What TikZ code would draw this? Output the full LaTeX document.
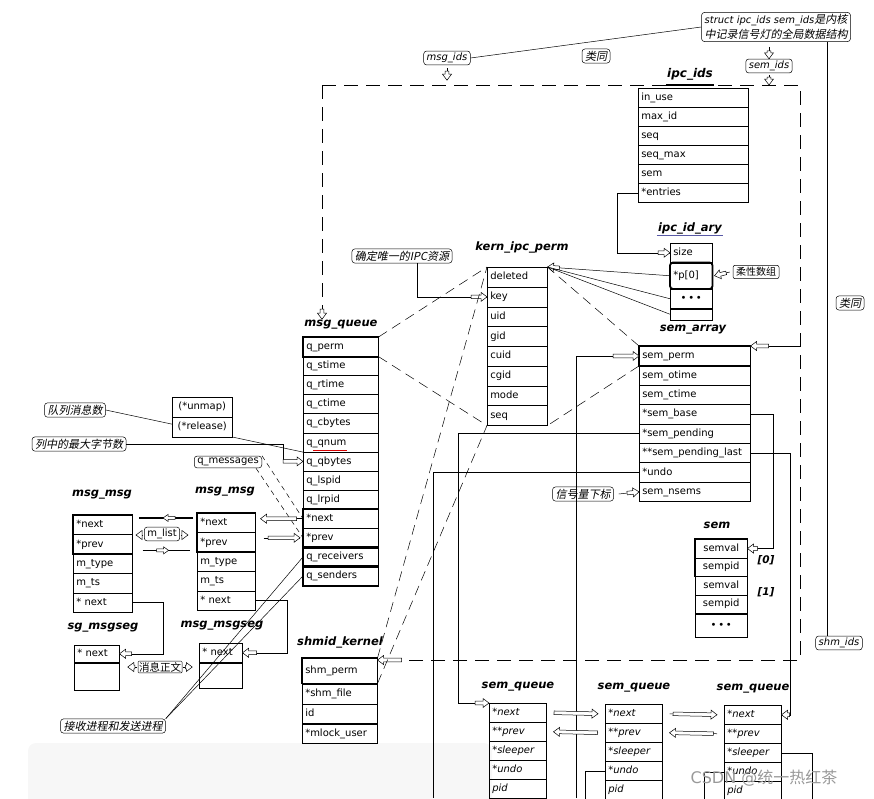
\documentclass[tikz,border=0pt]{standalone}
\usepackage{fontspec}
\setmainfont{DejaVu Sans}
\newfontfamily\cjk{Noto Sans CJK SC}
\newfontfamily\cjki[FakeSlant=0.2]{Noto Sans CJK SC}
\usetikzlibrary{arrows.meta,positioning,calc,decorations.markings}

\begin{document}
\begin{tikzpicture}[
  x=1pt, y=-1pt, line width=.5pt,
  row/.style={draw, anchor=north west, inner xsep=3pt, inner ysep=0pt, text height=7.5pt, text depth=2pt, font=\fontsize{10}{12}\selectfont},
  ttl/.style={font=\fontsize{11.5}{13}\selectfont\bfseries\itshape, inner sep=1pt},
  note/.style={draw, fill=white, rounded corners=3pt, inner xsep=3pt, inner ysep=2pt, font=\fontsize{10}{12}\selectfont\itshape},
  cnote/.style={note, font=\fontsize{11}{13}\selectfont\cjki},
  plain/.style={draw, fill=white, rounded corners=3pt, inner xsep=3pt, inner ysep=2pt, font=\fontsize{10}{12}\selectfont},
  thk/.style={line width=1.8pt},
  frame/.style={dash pattern=on 14pt off 8pt},
  perm/.style={dash pattern=on 10pt off 6pt},
  lst/.style={dash pattern=on 5pt off 4pt},
  hol/.style={postaction={decorate, decoration={markings, mark=at position 1 with {\draw[solid, fill=white, line width=.5pt] (0,0) -- (-6,-4.5) -- (-6,-1.8) -- (-#1,-1.8) -- (-#1,1.8) -- (-6,1.8) -- (-6,4.5) -- cycle;}}}},
  hol/.default=14,
  holm/.style={postaction={decorate, decoration={markings, mark=at position .55 with {\draw[solid, fill=white, line width=.5pt] (0,0) -- (-5,-3.5) -- (-5,-1.5) -- (-12,-1.5) -- (-12,1.5) -- (-5,1.5) -- (-5,3.5) -- cycle;}}}}
]
\useasboundingbox (0,0) rectangle (874,798);
\clip (0,0) rectangle (874,798);
\fill[black!3, rounded corners=8pt] (28,743) rectangle (492,820);

% Top notes
\node[note, align=center, font=\fontsize{10}{15}\selectfont\itshape] (cb) at (776,27) {struct ipc\_ids sem\_ids{\fontsize{11}{15}\selectfont\cjki 是内核}\\{\fontsize{11}{15}\selectfont\cjki 中记录信号灯的全局数据结构}};
\node[note] (mids) at (447,58) {msg\_ids};
\node[cnote] (lei1) at (596,56) {类同};
\node[note] (sids) at (769,66) {sem\_ids};
\node[cnote] (lei2) at (850,303) {类同};
\node[note] (shm) at (839,643) {shm\_ids};

\coordinate (fnw) at (322,85);
\coordinate (fne) at (800,85);
\coordinate (fse) at (800,660);

% ipc_ids
\node[ttl, font=\fontsize{12}{14}\selectfont\bfseries\itshape] (ipct) at (690,74) {ipc\_ids};
\foreach \f [count=\i] in {in\_use, max\_id, seq, seq\_max, sem, *entries}
  \node[row, text width=104pt, minimum height=19pt] (ipc-\i) at (638,{88+19*(\i-1)}) {\f};

% ipc_id_ary
\node[ttl] (aryt) at (690,228) {ipc\_id\_ary};
\node[row, text width=36pt, minimum height=19pt] (ary-1) at (670,243) {size};
\node[row, text width=36pt, minimum height=26pt, below=0pt of ary-1] (ary-2) {*p[0]};
\node[row, text width=36pt, minimum height=19pt, align=center, below=0pt of ary-2] (ary-3) {\textbullet\,\textbullet\,\textbullet};
\node[row, text width=36pt, minimum height=11pt, below=0pt of ary-3] (ary-4) {};
\draw[thk, rounded corners=3pt] (ary-2.north west) rectangle (ary-2.south east);
\draw[blue!30!gray] (aryt.south west) -- (aryt.south east);
\node[plain, rounded corners=2pt, font=\fontsize{10}{12}\selectfont\cjk] (flex) at (756,272) {柔性数组};

% kern_ipc_perm
\node[ttl] (kernt) at (522,247) {kern\_ipc\_perm};
\foreach \f [count=\i] in {deleted, key, uid, gid, cuid, cgid, mode, seq}
  \node[row, text width=54pt, minimum height=19.75pt] (kern-\i) at (487,{267+19.75*(\i-1)}) {\f};
\node[cnote] (key) at (402,256) {确定唯一的IPC资源};

% msg_queue
\node[ttl] (mqt) at (341,325) {msg\_queue};
\foreach \f [count=\i] in {q\_perm, q\_stime, q\_rtime, q\_ctime, q\_cbytes, q\_qnum, q\_qbytes, q\_lspid, q\_lrpid, *next, *prev, q\_receivers, q\_senders}
  \node[row, text width=69pt, minimum height=19.1pt] (mq-\i) at (303,{337+19.1*(\i-1)}) {\f};
\draw[thk] (mq-1.north west) rectangle (mq-1.south east);
\draw[thk] (mq-10.north west) rectangle (mq-11.south east);
\draw[thk] (mq-12.north west) rectangle (mq-12.south east);
\draw[thk] (mq-13.north west) rectangle (mq-13.south east);

% sem_array
\node[ttl] (sat) at (693,330) {sem\_array};
\foreach \f [count=\i] in {sem\_perm, sem\_otime, sem\_ctime, *sem\_base, *sem\_pending, **sem\_pending\_last, *undo, sem\_nsems}
  \node[row, text width=105pt, minimum height=19.4pt] (sa-\i) at (639,{346+19.4*(\i-1)}) {\f};
\draw[thk] (sa-1.north west) rectangle (sa-1.south east);
\node[cnote] (idx) at (583,494) {信号量下标};

% sem
\node[ttl] (semt) at (717,525) {sem};
\foreach \f [count=\i] in {semval, sempid, semval, sempid}
  \node[row, text width=46pt, minimum height=18.5pt, align=center] (sem-\i) at (695,{539+18.5*(\i-1)}) {\f};
\node[row, text width=46pt, minimum height=23pt, align=center, below=0pt of sem-4] (sem-5) {\textbullet\,\textbullet\,\textbullet};
\draw[thk] (sem-1.north west) rectangle (sem-2.south east);
\node[font=\fontsize{10.5}{12}\selectfont\bfseries\itshape] (ix0) at (766,560) {[0]};
\node[font=\fontsize{10.5}{12}\selectfont\bfseries\itshape] (ix1) at (766,592) {[1]};

% msg_msg
\node[ttl] (mat) at (102,495) {msg\_msg};
\node[ttl] (mbt) at (225,492) {msg\_msg};
\foreach \f [count=\i] in {*next, *prev, m\_type, m\_ts, * next} {
  \node[row, text width=53pt, minimum height=19.4pt] (ma-\i) at (73,{515+19.4*(\i-1)}) {\f};
  \node[row, text width=52pt, minimum height=19.4pt] (mb-\i) at (197,{513+19.4*(\i-1)}) {\f};
}
\draw[thk] (ma-1.north west) rectangle (ma-2.south east);
\draw[thk] (mb-1.north west) rectangle (mb-2.south east);
\node[plain] (qm) at (228,462) {q\_messages};
\node[plain] (ml) at (162,534) {m\_list};
\node[cnote] (qn) at (75,410) {队列消息数};
\node[cnote] (qb) at (79,444) {列中的最大字节数};

% msgseg
\node[ttl] (sgt) at (103,628) {sg\_msgseg};
\node[row, text width=39pt, minimum height=17pt] (sg-1) at (74,645) {* next};
\node[row, text width=39pt, minimum height=27pt, below=0pt of sg-1] (sg-2) {};
\node[ttl] (mst) at (222,626) {msg\_msgseg};
\node[row, text width=37pt, minimum height=19pt] (ms-1) at (199,643) {* next};
\node[row, text width=37pt, minimum height=25pt, below=0pt of ms-1] (ms-2) {};
\node[plain, rounded corners=1pt, inner sep=1pt, font=\fontsize{10.5}{12}\selectfont\cjk] (body) at (160,667) {消息正文};
\node[cnote] (rs) at (113,726) {接收进程和发送进程};

% shmid_kernel
\node[ttl] (shkt) at (340,642) {shmid\_kernel};
\node[row, text width=69pt, minimum height=25pt] (shk-1) at (302,658) {shm\_perm};
\node[row, text width=69pt, minimum height=20pt, below=0pt of shk-1] (shk-2) {*shm\_file};
\node[row, text width=69pt, minimum height=19pt, below=0pt of shk-2] (shk-3) {id};
\node[row, text width=69pt, minimum height=19pt, below=0pt of shk-3] (shk-4) {*mlock\_user};
\draw[thk] (shk-1.north west) rectangle (shk-1.south east);

% sem_queue
\foreach \n/\x/\y in {1/489/703, 2/605/704, 3/724/705} {
  \node[ttl] (sqt-\n) at ({\x+29},{\y-16}) {sem\_queue};
  \foreach \f [count=\i] in {*next, **prev, *sleeper, *undo, pid}
    \node[row, font=\fontsize{10}{12}\selectfont\itshape, text width=51pt, minimum height=19pt] (sq\n-\i) at (\x,{\y+19*(\i-1)}) {\f};
}

% Frame and top arrows
\draw[frame, hol=10] (fnw) -- (fnw |- mqt.north);
\draw[frame, hol=24] (fnw) -- (fne) -- (fse) -- (fse -| shk-1.north east);
\draw[line width=2.2pt] (ipct.south west |- fnw) -- (ipct.south east |- fnw);
\draw (cb.west) -- (mids.east);
\draw[hol=9] ($(mids.south)+(0,3)$) -- ($(mids.south)+(0,15)$);
\draw[hol=8] ($(sids.north)+(0,-12)$) -- (sids.north);
\draw[hol=8] ($(sids.south)+(0,2)$) -- (sids.south |- fne);
\coordinate (shmtop) at ($(shm.north west)+(12,0)$);
\draw (cb.south -| shmtop) -- (shmtop);

% ipc_ids, ipc_id_ary, kern_ipc_perm
\draw[hol=12] (ipc-6.west) -- ++(-21,0) |- (ary-1.west);
\draw[hol=12] ($(flex.west)+(-3,0)$) -- ($(ary-2.east)+(2,0)$);
\draw[hol=12] (ary-2.west) -- (kern-1.north east);
\draw (kern-1.north east) -- (ary-3.west);
\draw (kern-1.north east) -- (ary-4.west);
\draw[hol=16] ($(key.south)+(15,0)$) |- (kern-2.west);
\draw[perm] (mq-1.north east) -- (kern-1.north west);
\draw[perm] (mq-1.south east) -- (kern-8.south west);
\draw[perm] (sa-1.north west) -- (kern-1.north east);
\draw[perm] (sa-1.south west) -- (kern-8.south east);
\draw[perm] (shk-1.north east) -- (kern-1.north west);
\draw[perm] (shk-1.south east) -- (kern-8.south west);

% msg_queue side
\draw (qn.east) -- (mq-6.south west);
\node[row, fill=white, text width=54pt, minimum height=19.5pt, align=center] (un-1) at (172,397) {(*unmap)};
\node[row, fill=white, text width=54pt, minimum height=19.5pt, align=center, below=0pt of un-1] (un-2) {(*release)};
\draw[red!85!black, line width=1.1pt] ($(mq-6.south west)+(10,-1.5)$) -- ++(34,0);
\draw[hol=20] (qb.east) -| ($(mq-7.west)+(-20,0)$) -- (mq-7.west);
\draw[lst] (qm.north east) -- (mq-10.west);
\draw[lst] ($(qm.south east)+(-6,0)$) -- (mq-11.west);
\draw[hol=36] (mq-10.west) -- ($(mq-10.west -| mb-1.east)+(5,0)$);
\draw[hol=32] ($(mq-11.west -| mb-2.east)+(8,0)$) -- ($(mq-11.west)+(-3,0)$);
\draw[line width=1.3pt, holm] ($(mb-1.west)+(-4,-5)$) -- ($(ma-1.east |- mb-1.west)+(6,-5)$);
\draw[line width=1.3pt, holm] ($(ma-2.east)+(10,6)$) -- ($(mb-2.west |- ma-2.east)+(-7,6)$);
\draw[hol=6] ($(ml.west)+(-1,1)$) -- ($(ml.west)+(-8,1)$);
\draw[hol=6] ($(ml.east)+(1,1)$) -- ($(ml.east)+(8,1)$);
\draw[hol=12] (ma-5.east) -| ($(sg-1.east)+(44,0)$) -- (sg-1.east);
\draw[hol=14] (mb-5.east) -| ($(ms-1.east)+(45,0)$) -- (ms-1.east);
\draw[hol=7] ($(body.west)+(-1,0)$) -- ($(body.west)+(-10,0)$);
\draw[hol=7] ($(body.east)+(1,0)$) -- ($(body.east)+(10,0)$);
\draw (mq-12.west) -- (rs.north east);
\draw (mq-13.west) -- (rs.north east);

% sem side
\coordinate (permdn) at (576,798);
\coordinate (undodn) at (433,798);
\draw[hol=26] (permdn) |- (sa-1.west);
\draw (sa-7.west) -| (undodn);
\draw[hol=14] (sa-5.west) -| ($(sq1-1.north west)+(-31,0)$) -- (sq1-1.north west);
\draw[hol=10] (sa-4.east) -| ($(sem-1.east)+(26,0)$) -- (sem-1.east);
\draw[hol=8] (sa-6.east) -| ($(sq3-1.east)+(9,0)$) -- (sq3-1.east);
\draw[hol=18] (fse |- sa-1.north east) -- (sa-1.north east);
\draw[hol=12] ($(idx.east)+(5,0)$) -- (sa-8.west);

% sem_queue links
\draw[hol=44] ($(sq1-1.east)+(7,0)$) -- ($(sq2-1.west)+(-7,0)$);
\draw[hol=44] ($(sq2-2.west)+(-7,0)$) -- ($(sq1-2.east)+(7,0)$);
\draw[hol=44] ($(sq2-1.east)+(7,0)$) -- ($(sq3-1.west)+(-7,0)$);
\draw[hol=44] ($(sq3-2.west)+(-7,0)$) -- ($(sq2-2.east)+(7,0)$);
\draw (sq2-4.west) -| ($(sq2-4.west)+(-20,40)$);
\draw (sq3-3.east) -| ($(sq3-3.east)+(31,60)$);
\draw (sq3-4.west) -| ($(sq3-4.west)+(-20,40)$);

\node[text=black!40, font=\fontsize{16}{18}\selectfont] (wm) at (764,778) {CSDN @{\cjk 统一热红茶}};

\end{tikzpicture}
\end{document}
